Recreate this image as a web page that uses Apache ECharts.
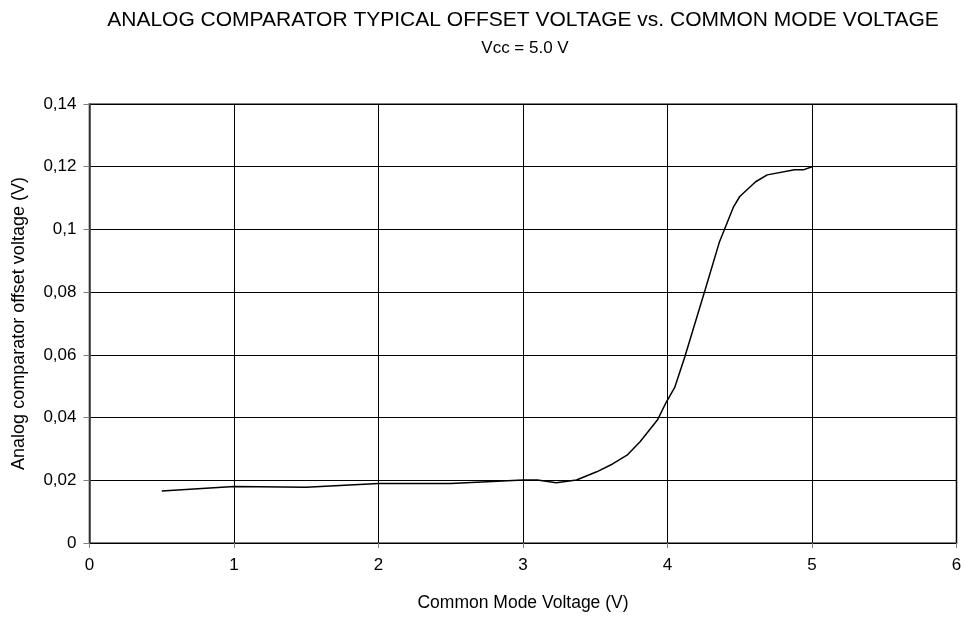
<!DOCTYPE html>
<html>
<head>
<meta charset="utf-8">
<script src="https://cdn.jsdelivr.net/npm/echarts@6/dist/echarts.min.js"></script>
<style>
  html, body { margin: 0; padding: 0; background: #fff; }
  #chart { width: 965px; height: 618px; }
</style>
</head>
<body>
<div id="chart"></div>
<script>
// Common mode voltage (V) and measured comparator offset (V)
const commonModeVoltage = [0.5, 1.0, 1.5, 2.0, 2.5, 3.0, 3.1, 3.23, 3.37, 3.51, 3.62, 3.72, 3.81, 3.93, 3.99, 4.05, 4.12, 4.26, 4.36, 4.455, 4.5, 4.61, 4.69, 4.88, 4.94, 5.0];
const offsetVoltage     = [0.0166, 0.018, 0.0178, 0.019, 0.019, 0.0201, 0.0201, 0.0192, 0.0201, 0.0227, 0.0252, 0.028, 0.0323, 0.0392, 0.0448, 0.0496, 0.0594, 0.0807, 0.0961, 0.107, 0.1105, 0.1152, 0.1174, 0.119, 0.119, 0.120];

const xTicks = [0, 1, 2, 3, 4, 5, 6];
const yTicks = [0, 0.02, 0.04, 0.06, 0.08, 0.1, 0.12, 0.14];

const titleText = 'ANALOG COMPARATOR TYPICAL OFFSET VOLTAGE vs. COMMON MODE VOLTAGE';
const subtitleText = 'Vcc = 5.0 V';
const xAxisName = 'Common Mode Voltage (V)';
const yAxisName = 'Analog comparator offset voltage (V)';

const font = '"Liberation Sans", Arial, sans-serif';
const chart = echarts.init(document.getElementById('chart'), null, { renderer: 'canvas' });

chart.setOption({
  animation: false,
  backgroundColor: '#ffffff',
  title: [
    {
      text: titleText,
      left: 518, top: 5, textAlign: 'center',
      textStyle: { fontFamily: font, fontSize: 21, fontWeight: 'normal', color: '#000' }
    },
    {
      text: subtitleText,
      left: 520, top: 35, textAlign: 'center',
      textStyle: { fontFamily: font, fontSize: 17, fontWeight: 'normal', color: '#000' }
    }
  ],
  grid: {
    left: 89.5, right: 8.5, top: 104, bottom: 75,
    show: true, borderColor: '#808080', borderWidth: 2, backgroundColor: 'transparent'
  },
  xAxis: {
    type: 'value',
    min: xTicks[0], max: xTicks[xTicks.length - 1], interval: 1,
    name: xAxisName, nameLocation: 'middle', nameGap: 51,
    nameTextStyle: { fontFamily: font, fontSize: 17.5, color: '#000' },
    axisLine: { show: true, lineStyle: { color: '#000', width: 1 } },
    axisTick: { show: true, length: 5, lineStyle: { color: '#808080' } },
    axisLabel: { fontFamily: font, fontSize: 17, color: '#000', margin: 14 },
    splitLine: { show: true, lineStyle: { color: '#000', width: 1 } }
  },
  yAxis: {
    type: 'value',
    min: yTicks[0], max: yTicks[yTicks.length - 1], interval: 0.02,
    name: yAxisName, nameLocation: 'middle', nameGap: 61,
    nameTextStyle: { fontFamily: font, fontSize: 18, color: '#000' },
    axisLine: { show: true, lineStyle: { color: '#404040', width: 1.5 } },
    axisTick: { show: true, length: 6, lineStyle: { color: '#808080' } },
    axisLabel: {
      fontFamily: font, fontSize: 17, color: '#000', margin: 13,
      formatter: v => String(Math.round(v * 100) / 100).replace('.', ',')
    },
    splitLine: { show: true, lineStyle: { color: '#000', width: 1 } }
  },
  series: [{
    type: 'line',
    data: commonModeVoltage.map((x, i) => [x, offsetVoltage[i]]),
    showSymbol: false,
    smooth: false,
    lineStyle: { color: '#000', width: 1.5 },
    z: 5
  }]
});
</script>
</body>
</html>
